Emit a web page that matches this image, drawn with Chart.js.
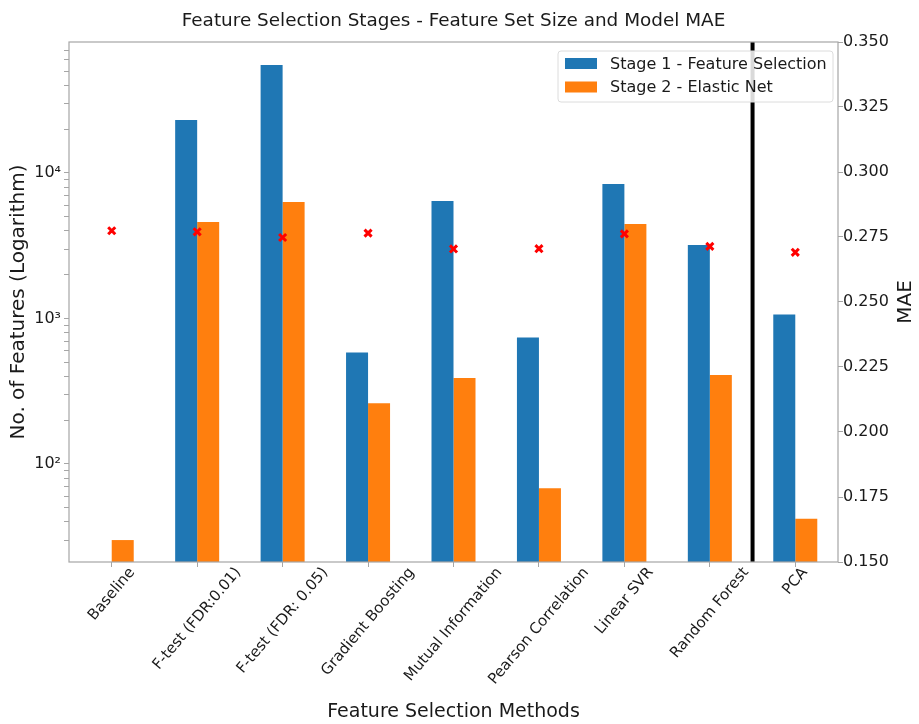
<!DOCTYPE html>
<html lang="en">
<head>
    <meta charset="UTF-8">
    <title>Feature Selection Stages</title>
    <script src="https://cdn.jsdelivr.net/npm/chart.js"></script>
    <style>
        html, body { margin: 0; padding: 0; background: #fff; }
        #wrap { width: 919px; height: 724px; }
    </style>
</head>
<body>
    <div id="wrap"><canvas id="stagesChart" width="919" height="724"></canvas></div>
    <script>
        // data
        var methods = ['Baseline', 'F-test (FDR:0.01)', 'F-test (FDR: 0.05)', 'Gradient Boosting',
            'Mutual Information', 'Pearson Correlation', 'Linear SVR', 'Random Forest', 'PCA'];
        var stage1 = [null, 23100, 55200, 584, 6430, 740, 8400, 3200, 1065];
        var stage2 = [30, 4600, 6320, 262, 390, 68, 4470, 409, 42];
        var mae = [0.2774, 0.2770, 0.2748, 0.2765, 0.2704, 0.2705, 0.2762, 0.2714, 0.2691];
        var logMajorTicks = [100, 1000, 10000];
        var maeTicks = [0.150, 0.175, 0.200, 0.225, 0.250, 0.275, 0.300, 0.325, 0.350];

        var FONT = "'DejaVu Sans', sans-serif";
        var SPINE = '#a6a6a6';
        var INK = '#1a1a1a';
        var LABEL_ANGLE = 50 * Math.PI / 180;
        var sup = { '0': '\u2070', '1': '\u00b9', '2': '\u00b2', '3': '\u00b3', '4': '\u2074', '5': '\u2075' };

        // minor + major ticks for the log axis
        function logTicks(min, max) {
            var out = [];
            for (var e = 0; e <= 5; e++) {
                for (var m = 1; m <= 9; m++) {
                    var v = m * Math.pow(10, e);
                    if (v >= min && v <= max) out.push({ value: v, major: logMajorTicks.indexOf(v) >= 0 });
                }
            }
            return out;
        }

        var framePlugin = {
            id: 'frame',
            afterDatasetsDraw: function(chart) {
                var ctx = chart.ctx, a = chart.chartArea, x = chart.scales.x;
                // separator between Random Forest and PCA
                var sx = (x.getPixelForValue(7) + x.getPixelForValue(8)) / 2;
                ctx.save();
                ctx.strokeStyle = '#000';
                ctx.lineWidth = 4;
                ctx.beginPath();
                ctx.moveTo(sx, a.top);
                ctx.lineTo(sx, a.bottom);
                ctx.stroke();
                ctx.strokeStyle = SPINE;
                ctx.lineWidth = 1.2;
                ctx.strokeRect(a.left, a.top, a.right - a.left, a.bottom - a.top);
                ctx.restore();
            },
            afterDraw: function(chart) {
                var ctx = chart.ctx, a = chart.chartArea, x = chart.scales.x;
                ctx.save();
                ctx.fillStyle = INK;
                ctx.textAlign = 'center';
                ctx.textBaseline = 'middle';

                // rotated category labels, box centred under each tick
                ctx.font = '15px ' + FONT;
                var h = 12;
                chart.data.labels.forEach(function(lab, i) {
                    var L = ctx.measureText(lab).width;
                    var H = L * Math.sin(LABEL_ANGLE) + h * Math.cos(LABEL_ANGLE);
                    ctx.save();
                    ctx.translate(x.getPixelForValue(i), a.bottom + 4 + H / 2);
                    ctx.rotate(-LABEL_ANGLE);
                    ctx.fillText(lab, 0, 0);
                    ctx.restore();
                });

                // title
                ctx.font = '18.4px ' + FONT;
                ctx.fillText('Feature Selection Stages - Feature Set Size and Model MAE', (a.left + a.right) / 2, 21);

                // right axis title, reading bottom to top
                ctx.save();
                ctx.translate(906, (a.top + a.bottom) / 2);
                ctx.rotate(-Math.PI / 2);
                ctx.font = '20px ' + FONT;
                ctx.fillText('MAE', 0, 0);
                ctx.restore();

                // legend box in the upper right
                var bx = 558, by = 51, bw = 275, bh = 51, r = 3;
                ctx.beginPath();
                ctx.moveTo(bx + r, by);
                ctx.arcTo(bx + bw, by, bx + bw, by + bh, r);
                ctx.arcTo(bx + bw, by + bh, bx, by + bh, r);
                ctx.arcTo(bx, by + bh, bx, by, r);
                ctx.arcTo(bx, by, bx + bw, by, r);
                ctx.closePath();
                ctx.fillStyle = 'rgba(255,255,255,0.85)';
                ctx.fill();
                ctx.strokeStyle = '#dcdcdc';
                ctx.lineWidth = 1;
                ctx.stroke();
                ctx.textAlign = 'left';
                ctx.font = '16px ' + FONT;
                [0, 1].forEach(function(i) {
                    var ds = chart.data.datasets[i];
                    var cy = 63.5 + i * 23.5;
                    ctx.fillStyle = ds.backgroundColor;
                    ctx.fillRect(565, cy - 5.5, 32, 11);
                    ctx.fillStyle = INK;
                    ctx.fillText(ds.label, 610, cy + 1);
                });
                ctx.restore();
            }
        };

        var ctx = document.getElementById('stagesChart').getContext('2d');
        var stagesChart = new Chart(ctx, {
            type: 'bar',
            data: {
                labels: methods,
                datasets: [{
                    label: 'Stage 1 - Feature Selection',
                    data: stage1,
                    backgroundColor: '#1f77b4',
                    yAxisID: 'y',
                    order: 2,
                    categoryPercentage: 0.515,
                    barPercentage: 1.0
                }, {
                    label: 'Stage 2 - Elastic Net',
                    data: stage2,
                    backgroundColor: '#ff7f0e',
                    yAxisID: 'y',
                    order: 2,
                    categoryPercentage: 0.515,
                    barPercentage: 1.0
                }, {
                    type: 'line',
                    label: 'MAE',
                    data: mae,
                    yAxisID: 'y1',
                    showLine: false,
                    pointStyle: 'crossRot',
                    pointRadius: 5,
                    pointBorderWidth: 3,
                    borderColor: '#ff0000',
                    backgroundColor: '#ff0000',
                    order: 0
                }]
            },
            options: {
                responsive: false,
                animation: false,
                layout: { padding: { top: 42, left: 0, right: 0, bottom: 0 } },
                plugins: {
                    legend: { display: false },
                    title: { display: false },
                    tooltip: { enabled: false }
                },
                scales: {
                    x: {
                        offset: true,
                        grid: { display: true, drawOnChartArea: false, offset: false, tickLength: 5, color: SPINE },
                        border: { display: false },
                        ticks: { display: false, autoSkip: false },
                        title: {
                            display: true,
                            text: 'Feature Selection Methods',
                            font: { family: FONT, size: 19 },
                            color: INK,
                            padding: { top: 0, bottom: 1 }
                        },
                        afterFit: function(s) { s.height = 162; }
                    },
                    y: {
                        type: 'logarithmic',
                        position: 'left',
                        min: 21.2,
                        max: 79500,
                        grid: { display: true, drawOnChartArea: false, tickLength: 5, color: SPINE },
                        border: { display: false },
                        afterBuildTicks: function(s) { s.ticks = logTicks(s.min, s.max); },
                        ticks: {
                            autoSkip: false,
                            font: { family: FONT, size: 16 },
                            color: INK,
                            padding: 3,
                            callback: function(v) {
                                if (logMajorTicks.indexOf(v) < 0) return '';
                                return '10' + sup[String(Math.round(Math.log10(v)))];
                            }
                        },
                        title: {
                            display: true,
                            text: 'No. of Features (Logarithm)',
                            font: { family: FONT, size: 20 },
                            color: INK,
                            padding: { top: 7, bottom: 0 }
                        },
                        afterFit: function(s) { s.width = 69; }
                    },
                    y1: {
                        type: 'linear',
                        position: 'right',
                        min: maeTicks[0],
                        max: maeTicks[maeTicks.length - 1],
                        grid: { display: true, drawOnChartArea: false, tickLength: 5, color: SPINE },
                        border: { display: false },
                        afterBuildTicks: function(s) { s.ticks = maeTicks.map(function(v) { return { value: v }; }); },
                        ticks: {
                            autoSkip: false,
                            font: { family: FONT, size: 16 },
                            color: INK,
                            padding: 0,
                            callback: function(v) { return Number(v).toFixed(3); }
                        },
                        title: { display: false },
                        afterFit: function(s) { s.width = 81; }
                    }
                }
            },
            plugins: [framePlugin]
        });
    </script>
</body>
</html>
